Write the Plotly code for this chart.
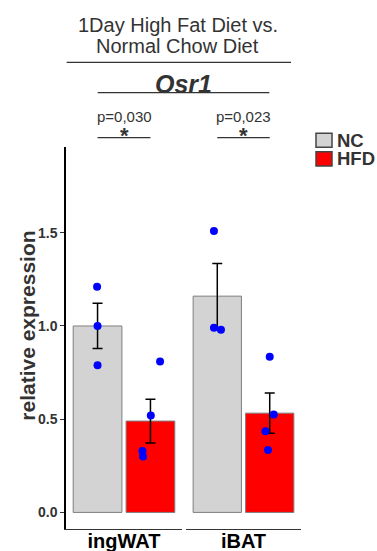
import numpy as np
import plotly.graph_objects as go

# ---- data ----
tissues = ["ingWAT", "iBAT"]
groups = ["NC", "HFD"]
nc_values = {"ingWAT": [1.21, 1.00, 0.79], "iBAT": [1.51, 0.99, 0.98]}
hfd_values = {"ingWAT": [0.81, 0.52, 0.33, 0.30], "iBAT": [0.835, 0.525, 0.435, 0.335]}
# horizontal jitter of the individual points (x units)
nc_jitter = {"ingWAT": [-0.004, 0.0, 0.0], "iBAT": [-0.029, -0.029, 0.032]}
hfd_jitter = {"ingWAT": [0.083, 0.003, -0.069, -0.064], "iBAT": [0.0, 0.035, -0.037, -0.015]}
p_labels = ["p=0,030", "p=0,023"]
y_ticks = [0.0, 0.5, 1.0, 1.5]

values = {"NC": nc_values, "HFD": hfd_values}
jitter = {"NC": nc_jitter, "HFD": hfd_jitter}
fill = {"NC": "#D3D3D3", "HFD": "#FF0000"}
dodge = {"NC": -0.228, "HFD": 0.228}
bar_width = 0.42

FONT = "Liberation Sans, Arial, sans-serif"
TXT = "#333333"

fig = go.Figure()
axes = ["x", "x2"]
for tissue, xa in zip(tissues, axes):
    for g in groups:
        v = np.array(values[g][tissue])
        mean = v.mean()
        se = v.std(ddof=1) / np.sqrt(len(v))
        fig.add_trace(go.Bar(
            x=[1 + dodge[g]], y=[mean], width=bar_width, xaxis=xa, yaxis="y",
            marker=dict(color=fill[g], line=dict(color="#7F7F7F", width=1)),
            error_y=dict(type="data", array=[se], color="black", thickness=1.5, width=5),
            showlegend=False, name=g,
        ))
    for g in groups:
        v = values[g][tissue]
        xs = [1 + dodge[g] + j for j in jitter[g][tissue]]
        fig.add_trace(go.Scatter(
            x=xs, y=v, mode="markers", xaxis=xa, yaxis="y",
            marker=dict(color="#0000FF", size=8), showlegend=False, cliponaxis=False,
        ))

W, H = 377, 551
L, R, T, B = 66, 76, 147, 22
pw = W - L - R
ph = H - T - B

def px(xp):
    return (xp - L) / pw

def py(yp):
    return (H - B - yp) / ph

xcommon = dict(range=[0.5, 1.5], showline=True, linecolor="#333333", linewidth=1,
               ticks="", showgrid=False, zeroline=False, anchor="y", automargin=False,
               ticklabelstandoff=-6,
               tickfont=dict(family=FONT, size=20, color="black", weight="bold"),
               fixedrange=True)
fig.update_layout(
    width=W, height=H, margin=dict(l=L, r=R, t=T, b=B, autoexpand=False),
    plot_bgcolor="white", paper_bgcolor="white",
    barmode="overlay",
    xaxis=dict(domain=[0, px(182)], tickvals=[1], ticktext=[tissues[0]], **xcommon),
    xaxis2=dict(domain=[px(186), 1], tickvals=[1], ticktext=[tissues[1]], **xcommon),
    yaxis=dict(range=[-0.089, 1.96], tickvals=y_ticks, tickformat=".1f",
               ticks="outside", ticklen=4, tickcolor="#333333", showline=True,
               linecolor="black", linewidth=1.5, showgrid=False, zeroline=False,
               automargin=False,
               tickfont=dict(family=FONT, size=14, color=TXT, weight="bold"),
               anchor="x"),
)

ann = []
shapes = []

def note(text, x, y, size, xref="paper", **kw):
    d = dict(text=text, x=x, y=y, xref=xref, yref="paper", showarrow=False,
             xanchor="center", yanchor="middle", font=dict(family=FONT, size=size, color=TXT))
    d.update(kw)
    ann.append(d)

# titles
note("1Day High Fat Diet vs.", px(178), py(25), 20)
note("Normal Chow Diet", px(177.5), py(46.3), 20)
shapes.append(dict(type="line", xref="paper", yref="paper", x0=px(66.7), x1=px(291),
                   y0=py(62.3), y1=py(62.3), line=dict(color=TXT, width=1.3)))
note("<b><i>Osr1</i></b>", px(183), py(83.5), 25)
shapes.append(dict(type="line", xref="paper", yref="paper", x0=px(97.7), x1=px(269.3),
                   y0=py(92.7), y1=py(92.7), line=dict(color=TXT, width=1.3)))

# significance brackets
for xa, lab in zip(axes, p_labels):
    note(lab, 1, py(116), 15, xref=xa)
    note("<b>*</b>", 1, py(136), 22, xref=xa)
    shapes.append(dict(type="line", xref=xa, yref="paper", x0=1 + dodge["NC"], x1=1 + dodge["HFD"],
                       y0=py(137.7), y1=py(137.7), line=dict(color=TXT, width=1.3)))

# legend
for g, (y0, y1) in zip(groups, [(133.3, 147.3), (151.7, 166)]):
    shapes.append(dict(type="rect", xref="paper", yref="paper", x0=px(316), x1=px(332),
                       y0=py(y1), y1=py(y0), fillcolor=fill[g], line=dict(color="#444444", width=1.5)))
    note("<b>%s</b>" % g, px(334.5), py((y0 + y1) / 2), 18.5, xanchor="left")

# y axis title
note("<b>relative expression</b>", px(26.7), py(326), 21, textangle=-90)

fig.update_layout(annotations=ann, shapes=shapes)
fig.write_html("out.html")
